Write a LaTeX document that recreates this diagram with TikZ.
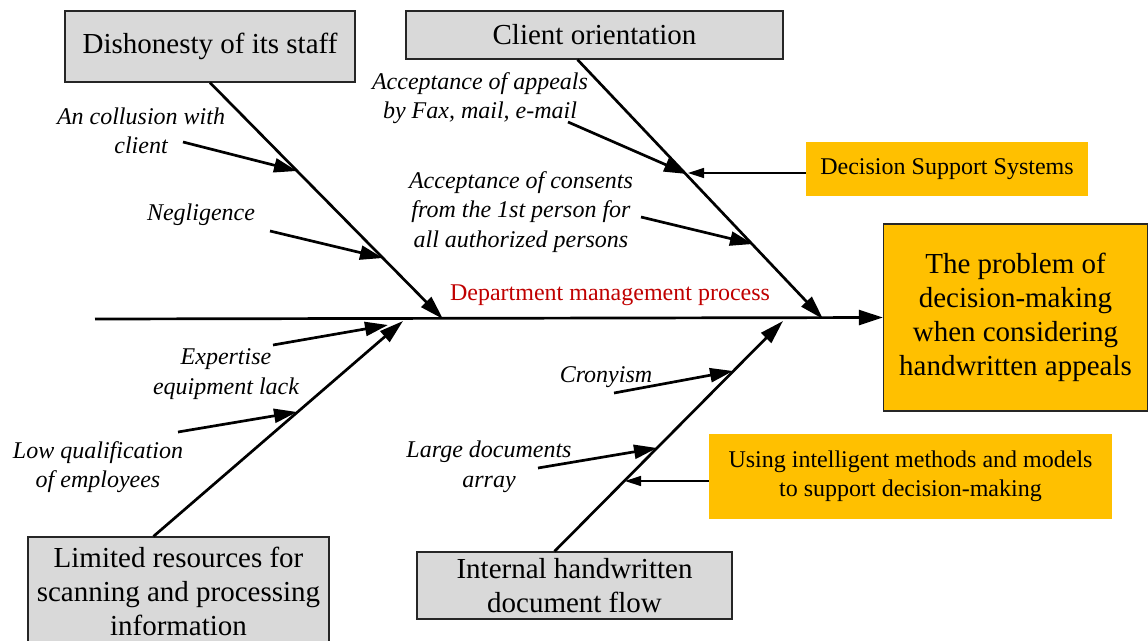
\documentclass[tikz,border=0pt]{standalone}
\usepackage{fontspec}
\setmainfont{Liberation Serif}
\usetikzlibrary{arrows.meta}
\definecolor{boxgray}{RGB}{217,217,217}
\definecolor{boxorange}{RGB}{255,192,0}
\definecolor{deptred}{RGB}{192,0,0}
\tikzset{
  causebox/.style={draw=black!85,line width=1.3pt,fill=boxgray,inner sep=0pt,align=center,
    font=\fontsize{29}{34}\selectfont},
  toolbox/.style={fill=boxorange,inner sep=0pt,align=center,font=\fontsize{24}{29}\selectfont},
  causetext/.style={inner sep=0pt,align=center,font=\fontsize{24}{29.5}\selectfont\itshape},
  bone/.style={line width=2.7pt,-{Triangle[length=24pt,width=14pt]}},
  twig/.style={line width=2.7pt,-{Triangle[length=23pt,width=14pt]}},
  hint/.style={line width=1.3pt,-{Triangle[length=16pt,width=10pt]}},
}

\begin{document}
\begin{tikzpicture}[x=1pt,y=1pt,yscale=-1]
\useasboundingbox (0,0) rectangle (1148,640);

% Cause boxes
\node [causebox,minimum width=290,minimum height=71] (staff) at (210,46.5) {Dishonesty of its staff};
\node [causebox,minimum width=377,minimum height=48] (client) at (594.5,35) {Client orientation};
\node [causebox,minimum width=301,minimum height=108] (resources) at (178.5,591) {Limited resources for\\scanning and processing\\information};
\node [causebox,minimum width=315,minimum height=67] (flow) at (574.5,585.5) {Internal handwritten\\document flow};
% Effect box
\node [causebox,fill=boxorange,minimum width=264,minimum height=187] (problem) at (1015.5,317.5) {The problem of\\decision-making\\when considering\\handwritten appeals};
% Tool boxes
\node [toolbox,minimum width=282,minimum height=54] (dss) at (947,169) {Decision Support Systems};
\node [toolbox,minimum width=403,minimum height=85] (intel) at (910.5,476.5) {Using intelligent methods and models\\to support decision-making};

% Spine
\coordinate (tail) at (95,319);
\draw [line width=2.7pt,-{Triangle[length=24pt,width=15pt]}] (tail) -- (problem.west);
\node [inner sep=0pt,text=deptred,font=\fontsize{24}{29}\selectfont] (dept) at (610,295) {Department management process};

% Bones
\coordinate (sA) at (443,319);
\coordinate (sB) at (823,319);
\coordinate (sC) at (403,321);
\coordinate (sD) at (783,321);
\draw [bone] (staff.south) -- (sA);
\draw [bone] ([xshift=-17pt]client.south) -- (sB);
\draw [bone] ([xshift=-25pt]resources.north) -- (sC);
\draw [bone] ([xshift=-20pt]flow.north) -- (sD);

% Sub-causes
\node [causetext] (collusion) at (141,131) {An collusion with\\client};
\node [causetext] (neglig) at (201,215) {Negligence};
\node [causetext] (appeals) at (480,98) {Acceptance of appeals\\by Fax, mail, e-mail};
\node [causetext] (consents) at (521,212) {Acceptance of consents\\from the 1st person for\\all authorized persons};
\node [causetext] (expertise) at (226,374) {Expertise\\equipment lack};
\node [causetext] (lowqual) at (98,467) {Low qualification\\of employees};
\node [causetext] (crony) at (606,377) {Cronyism};
\node [causetext] (largedoc) at (489,467) {Large documents\\array};

\coordinate (c1) at (183,142);  \coordinate (b1) at (297,171);
\coordinate (c2) at (270,231);  \coordinate (b2) at (383,258);
\coordinate (c3) at (568,122);  \coordinate (b3) at (687,174);
\coordinate (c4) at (641,217);  \coordinate (b4) at (753,244);
\coordinate (c5) at (273,345);  \coordinate (b5) at (388,325);
\coordinate (c6) at (178,432);  \coordinate (b6) at (297,412);
\coordinate (c7) at (614,393);  \coordinate (b7) at (733,371);
\coordinate (c8) at (538,468);  \coordinate (b8) at (657,448);
\draw [twig] (c1) -- (b1);
\draw [twig] (c2) -- (b2);
\draw [twig] (c3) -- (b3);
\draw [twig] (c4) -- (b4);
\draw [twig] (c5) -- (b5);
\draw [twig] (c6) -- (b6);
\draw [twig] (c7) -- (b7);
\draw [twig] (c8) -- (b8);

% Tool pointers
\coordinate (d1) at (688,173);
\coordinate (u1) at (625,481);
\draw [hint] (dss.west |- d1) -- (d1);
\draw [hint] (intel.west |- u1) -- (u1);

\end{tikzpicture}
\end{document}
